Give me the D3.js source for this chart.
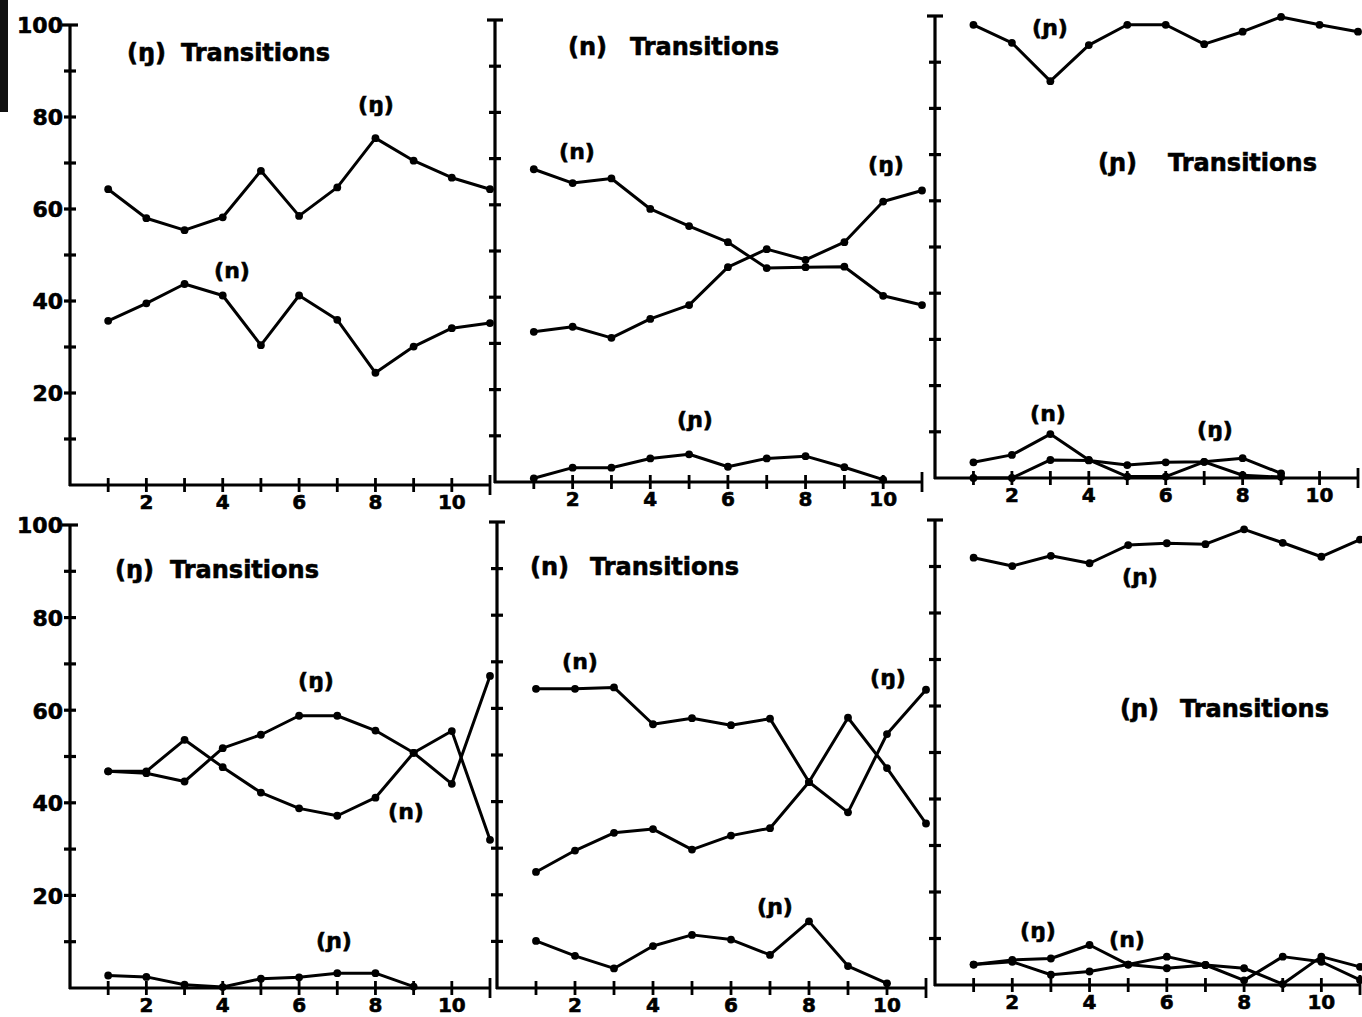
<!DOCTYPE html>
<html><head><meta charset="utf-8">
<script src="https://cdn.jsdelivr.net/npm/d3@7"></script>
<style>body{margin:0;background:#fff;} svg{display:block} text{stroke:#000;stroke-width:0.6px;}</style>
</head><body><svg id="c" width="1362" height="1017"></svg>
<script>
// ---- data ----
const xValues = [1, 2, 3, 4, 5, 6, 7, 8, 9, 10, 11];
const xTickLabels = [2, 4, 6, 8, 10];
const yTickLabels = [20, 40, 60, 80, 100];
const yMinorTicks = [10, 20, 30, 40, 50, 60, 70, 80, 90, 100];
const seriesNames = ["(n)", "(ŋ)", "(ɲ)"];
const panelTitles = ["(ŋ)", "(n)", "(ɲ)", "(ŋ)", "(n)", "(ɲ)"];
const titleWord = "Transitions";

// panel 1: (ŋ) transitions
const p1_eng = [64.3, 58.0, 55.4, 58.2, 68.3, 58.5, 64.7, 75.4, 70.5, 66.8, 64.3];
const p1_n   = [35.7, 39.5, 43.7, 41.2, 30.4, 41.2, 35.9, 24.4, 30.1, 34.1, 35.2];
// panel 2: (n) transitions
const p2_n   = [67.7, 64.7, 65.7, 59.1, 55.4, 51.9, 46.3, 46.5, 46.6, 40.3, 38.3];
const p2_eng = [32.5, 33.6, 31.2, 35.3, 38.3, 46.5, 50.4, 48.1, 51.9, 60.7, 63.1];
const p2_pal = [0.8, 3.1, 3.1, 5.1, 6.0, 3.3, 5.1, 5.6, 3.2, 0.5];
// panel 3: (ɲ) transitions
const p3_pal = [98.1, 94.2, 85.9, 93.7, 98.1, 98.1, 93.9, 96.6, 99.8, 98.1, 96.6];
const p3_n   = [3.4, 5.0, 9.5, 3.9, 0.3, 0.3, 3.5, 0.6, 0.2];
const p3_eng = [0.0, 0.0, 3.9, 3.8, 2.8, 3.4, 3.5, 4.3, 1.0];
// panel 4: (ŋ) transitions
const p4_n   = [46.8, 46.8, 53.6, 47.7, 42.2, 38.8, 37.2, 41.1, 50.8, 55.5, 32.0];
const p4_eng = [46.8, 46.4, 44.6, 51.8, 54.7, 58.8, 58.8, 55.6, 50.8, 44.1, 67.4];
const p4_pal = [2.7, 2.4, 0.7, 0.2, 2.0, 2.3, 3.2, 3.2, 0.3];
// panel 5: (n) transitions
const p5_n   = [64.2, 64.2, 64.5, 56.6, 57.9, 56.4, 57.8, 44.2, 37.7, 54.5, 64.0];
const p5_eng = [24.9, 29.5, 33.3, 34.1, 29.7, 32.7, 34.3, 44.2, 58.0, 47.2, 35.3];
const p5_pal = [10.1, 6.9, 4.2, 9.0, 11.4, 10.4, 7.1, 14.3, 4.7, 1.0];
// panel 6: (ɲ) transitions
const p6_pal = [91.9, 90.1, 92.3, 90.7, 94.6, 95.0, 94.8, 98.0, 95.1, 92.1, 95.8];
const p6_n   = [4.4, 5.4, 5.7, 8.6, 4.4, 6.1, 4.3, 3.6, 0.2, 6.1, 3.9];
const p6_eng = [4.4, 5.0, 2.2, 2.9, 4.4, 3.6, 4.3, 1.0, 6.1, 5.0, 1.1];

// ---- layout ----
const FONT = "'DejaVu Sans', 'Liberation Sans', sans-serif";
const panels = [
  { xr: [70, 490], yr: [485, 25], yLabels: true, series: [p1_eng, p1_n],
    title: { sx: 127, wx: 181, y: 61 },
    labels: [{ s: 1, x: 376, y: 112 }, { s: 0, x: 232, y: 278 }] },
  { xr: [495, 922], yr: [482, 20], yLabels: false, series: [p2_n, p2_eng, p2_pal],
    title: { sx: 568, wx: 630, y: 55 },
    labels: [{ s: 0, x: 577, y: 159 }, { s: 1, x: 886, y: 172 }, { s: 2, x: 695, y: 427 }] },
  { xr: [935, 1358], yr: [478, 16], yLabels: false, series: [p3_pal, p3_n, p3_eng],
    title: { sx: 1098, wx: 1168, y: 171 },
    labels: [{ s: 2, x: 1050, y: 35 }, { s: 0, x: 1048, y: 421 }, { s: 1, x: 1215, y: 437 }] },
  { xr: [70, 490], yr: [988, 525], yLabels: true, series: [p4_n, p4_eng, p4_pal],
    title: { sx: 115, wx: 170, y: 578 },
    labels: [{ s: 1, x: 316, y: 688 }, { s: 0, x: 406, y: 819 }, { s: 2, x: 334, y: 948 }] },
  { xr: [497, 926], yr: [988, 522], yLabels: false, series: [p5_n, p5_eng, p5_pal],
    title: { sx: 530, wx: 590, y: 575 },
    labels: [{ s: 0, x: 580, y: 669 }, { s: 1, x: 888, y: 685 }, { s: 2, x: 775, y: 914 }] },
  { xr: [935, 1360], yr: [985, 520], yLabels: false, series: [p6_pal, p6_n, p6_eng],
    title: { sx: 1120, wx: 1180, y: 717 },
    labels: [{ s: 2, x: 1140, y: 584 }, { s: 1, x: 1038, y: 938 }, { s: 0, x: 1127, y: 947 }] }
];

const svg = d3.select("#c");
svg.append("rect").attr("width", 1362).attr("height", 1017).attr("fill", "#fff");
// scan edge artifact
svg.append("rect").attr("x", 0).attr("y", 0).attr("width", 8).attr("height", 112).attr("fill", "#111");

panels.forEach((p, i) => {
  const x = d3.scaleLinear().domain([0, 11]).range(p.xr);
  const y = d3.scaleLinear().domain([0, 100]).range(p.yr);
  const g = svg.append("g");

  // y axis
  g.append("line").attr("x1", x(0)).attr("x2", x(0)).attr("y1", y(0) + 1).attr("y2", y(100))
    .attr("stroke", "#000").attr("stroke-width", 3.2);
  g.selectAll(".yt").data(yMinorTicks).join("line")
    .attr("x1", d => x(0) - (d === 100 ? 8 : 6)).attr("x2", d => x(0) + (d === 100 ? 8 : 6))
    .attr("y1", d => y(d)).attr("y2", d => y(d))
    .attr("stroke", "#000").attr("stroke-width", 3.2);
  if (p.yLabels) {
    g.selectAll(".yl").data(yTickLabels).join("text")
      .attr("x", x(0) - 7).attr("y", d => y(d)).attr("dy", "0.38em")
      .attr("text-anchor", "end").attr("font-family", FONT).attr("font-weight", "bold")
      .attr("font-size", 22).text(d => d);
  }
  // x axis
  g.append("line").attr("x1", x(0) - 1).attr("x2", x(11) + 1).attr("y1", y(0)).attr("y2", y(0))
    .attr("stroke", "#000").attr("stroke-width", 3.2);
  g.selectAll(".xt").data(xValues).join("line")
    .attr("x1", d => x(d)).attr("x2", d => x(d))
    .attr("y1", d => y(0) - (d === 11 ? 10 : 7)).attr("y2", d => y(0) + (d === 11 ? 10 : 7))
    .attr("stroke", "#000").attr("stroke-width", 2.8);
  g.selectAll(".xl").data(xTickLabels).join("text")
    .attr("x", d => x(d)).attr("y", y(0) + 24)
    .attr("text-anchor", "middle").attr("font-family", FONT).attr("font-weight", "bold")
    .attr("font-size", 20).text(d => d);

  // series
  const line = d3.line().x((d, k) => x(xValues[k])).y(d => y(d));
  p.series.forEach(s => {
    g.append("path").attr("d", line(s)).attr("fill", "none")
      .attr("stroke", "#000").attr("stroke-width", 3).attr("stroke-linejoin", "round");
    g.selectAll(null).data(s).join("circle")
      .attr("cx", (d, k) => x(xValues[k])).attr("cy", d => y(d)).attr("r", 3.9).attr("fill", "#000");
  });

  // title
  g.append("text").attr("x", p.title.sx).attr("y", p.title.y)
    .attr("font-family", FONT).attr("font-weight", "bold").attr("font-size", 24).text(panelTitles[i]);
  g.append("text").attr("x", p.title.wx).attr("y", p.title.y)
    .attr("font-family", FONT).attr("font-weight", "bold").attr("font-size", 24).text(titleWord);

  // series labels
  p.labels.forEach(l => {
    g.append("text").attr("x", l.x).attr("y", l.y).attr("text-anchor", "middle")
      .attr("font-family", FONT).attr("font-weight", "bold").attr("font-size", 22)
      .text(seriesNames[l.s]);
  });
});
</script></body></html>
